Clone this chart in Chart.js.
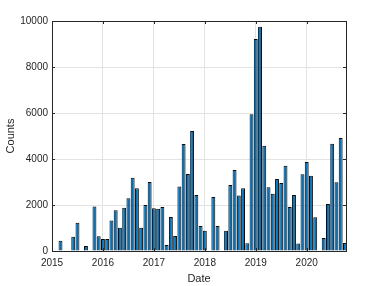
<!DOCTYPE html>
<html>
<head>
<meta charset="utf-8">
<script src="https://cdn.jsdelivr.net/npm/chart.js@4/dist/chart.umd.min.js"></script>
<style>
  html, body { margin: 0; padding: 0; background: #fff; }
  #wrap { width: 382px; height: 286px; }
</style>
</head>
<body>
<div id="wrap"><canvas id="chart" width="382" height="286"></canvas></div>
<script>
// monthly counts, Jan 2015 .. Oct 2020
const months = [
    "2015-01","2015-02","2015-03","2015-04","2015-05","2015-06","2015-07","2015-08","2015-09","2015-10","2015-11","2015-12",
    "2016-01","2016-02","2016-03","2016-04","2016-05","2016-06","2016-07","2016-08","2016-09","2016-10","2016-11","2016-12",
    "2017-01","2017-02","2017-03","2017-04","2017-05","2017-06","2017-07","2017-08","2017-09","2017-10","2017-11","2017-12",
    "2018-01","2018-02","2018-03","2018-04","2018-05","2018-06","2018-07","2018-08","2018-09","2018-10","2018-11","2018-12",
    "2019-01","2019-02","2019-03","2019-04","2019-05","2019-06","2019-07","2019-08","2019-09","2019-10","2019-11","2019-12",
    "2020-01","2020-02","2020-03","2020-04","2020-05","2020-06","2020-07","2020-08","2020-09","2020-10"
];
const counts = [
    0, 0, 450, 0, 0, 620, 1230, 0, 220, 0, 1940, 640,
    520, 520, 1330, 1770, 1010, 1880, 2290, 3190, 2730, 1010, 2000, 3000,
    1860, 1840, 1910, 260, 1480, 650, 2800, 4650, 3350, 5220, 2440, 1090,
    880, 0, 2350, 1090, 0, 880, 2870, 3520, 2410, 2725, 335, 5950,
    9220, 9750, 4580, 2770, 2490, 3130, 2960, 3710, 1910, 2430, 330, 3340,
    3870, 3270, 1470, 0, 565, 2040, 4665, 2990, 4910, 350
];
const yearTicks = [2015, 2016, 2017, 2018, 2019, 2020];
const countTicks = [0, 2000, 4000, 6000, 8000, 10000];

const axisColor = "#262626";

function monthToYear(m) {
    const [y, mo] = m.split("-").map(Number);
    return y + (mo - 1) / 12;
}

// box round the plot + inward ticks on all four sides
const boxPlugin = {
    id: "box",
    afterDraw(c) {
        const ctx = c.ctx;
        const a = c.chartArea;
        const xs = c.scales.x, ys = c.scales.y;
        ctx.save();
        ctx.strokeStyle = axisColor;
        ctx.lineWidth = 1;
        ctx.strokeRect(Math.round(a.left) + 0.5, Math.round(a.top) + 0.5,
            Math.round(a.right - a.left), Math.round(a.bottom - a.top));
        ctx.beginPath();
        yearTicks.forEach(v => {
            const x = Math.round(xs.getPixelForValue(v)) + 0.5;
            ctx.moveTo(x, a.bottom); ctx.lineTo(x, a.bottom - 3);
            ctx.moveTo(x, a.top); ctx.lineTo(x, a.top + 3);
        });
        countTicks.forEach(v => {
            const y = Math.round(ys.getPixelForValue(v)) + 0.5;
            ctx.moveTo(a.left, y); ctx.lineTo(a.left + 3, y);
            ctx.moveTo(a.right, y); ctx.lineTo(a.right - 3, y);
        });
        ctx.stroke();
        ctx.restore();
    }
};

const tickFont = { family: "'Liberation Sans', Arial, sans-serif", size: 10 };
const titleFont = { family: "'Liberation Sans', Arial, sans-serif", size: 11 };

new Chart(document.getElementById("chart"), {
    type: "bar",
    data: {
        labels: months,
        datasets: [{
            label: "Counts",
            data: months.map((m, i) => ({ x: monthToYear(m), y: counts[i] })),
            backgroundColor: "#0072BD",
            borderColor: "#0a0a0a",
            borderWidth: 1,
            borderSkipped: "bottom",
            barPercentage: 0.92,
            categoryPercentage: 1.0
        }]
    },
    options: {
        responsive: false,
        animation: false,
        devicePixelRatio: 1,
        layout: { padding: { top: 21, right: 36, left: 0, bottom: 0 } },
        plugins: { legend: { display: false }, tooltip: { enabled: false } },
        scales: {
            x: {
                type: "linear",
                offset: false,
                min: 2015,
                max: 2015 + 69.25 / 12,
                afterBuildTicks: s => { s.ticks = yearTicks.map(v => ({ value: v })); },
                afterFit: s => { s.height = 35; },
                ticks: {
                    color: axisColor,
                    font: tickFont,
                    padding: 6,
                    maxRotation: 0,
                    callback: v => String(v)
                },
                grid: { color: "#e3e3e3", drawTicks: false, offset: false },
                border: { display: false },
                title: { display: true, text: "Date", color: axisColor, font: titleFont, padding: { top: 0, bottom: 0 } }
            },
            y: {
                min: 0,
                max: 10000,
                afterBuildTicks: s => { s.ticks = countTicks.map(v => ({ value: v })); },
                afterFit: s => { s.width = 52; },
                ticks: { color: axisColor, font: tickFont, padding: 4, callback: v => String(v) },
                grid: { color: "#e3e3e3", drawTicks: false },
                border: { display: false },
                title: { display: true, text: "Counts", color: axisColor, font: titleFont, padding: { top: 4, bottom: 0 } }
            }
        }
    },
    plugins: [boxPlugin]
});
</script>
</body>
</html>
